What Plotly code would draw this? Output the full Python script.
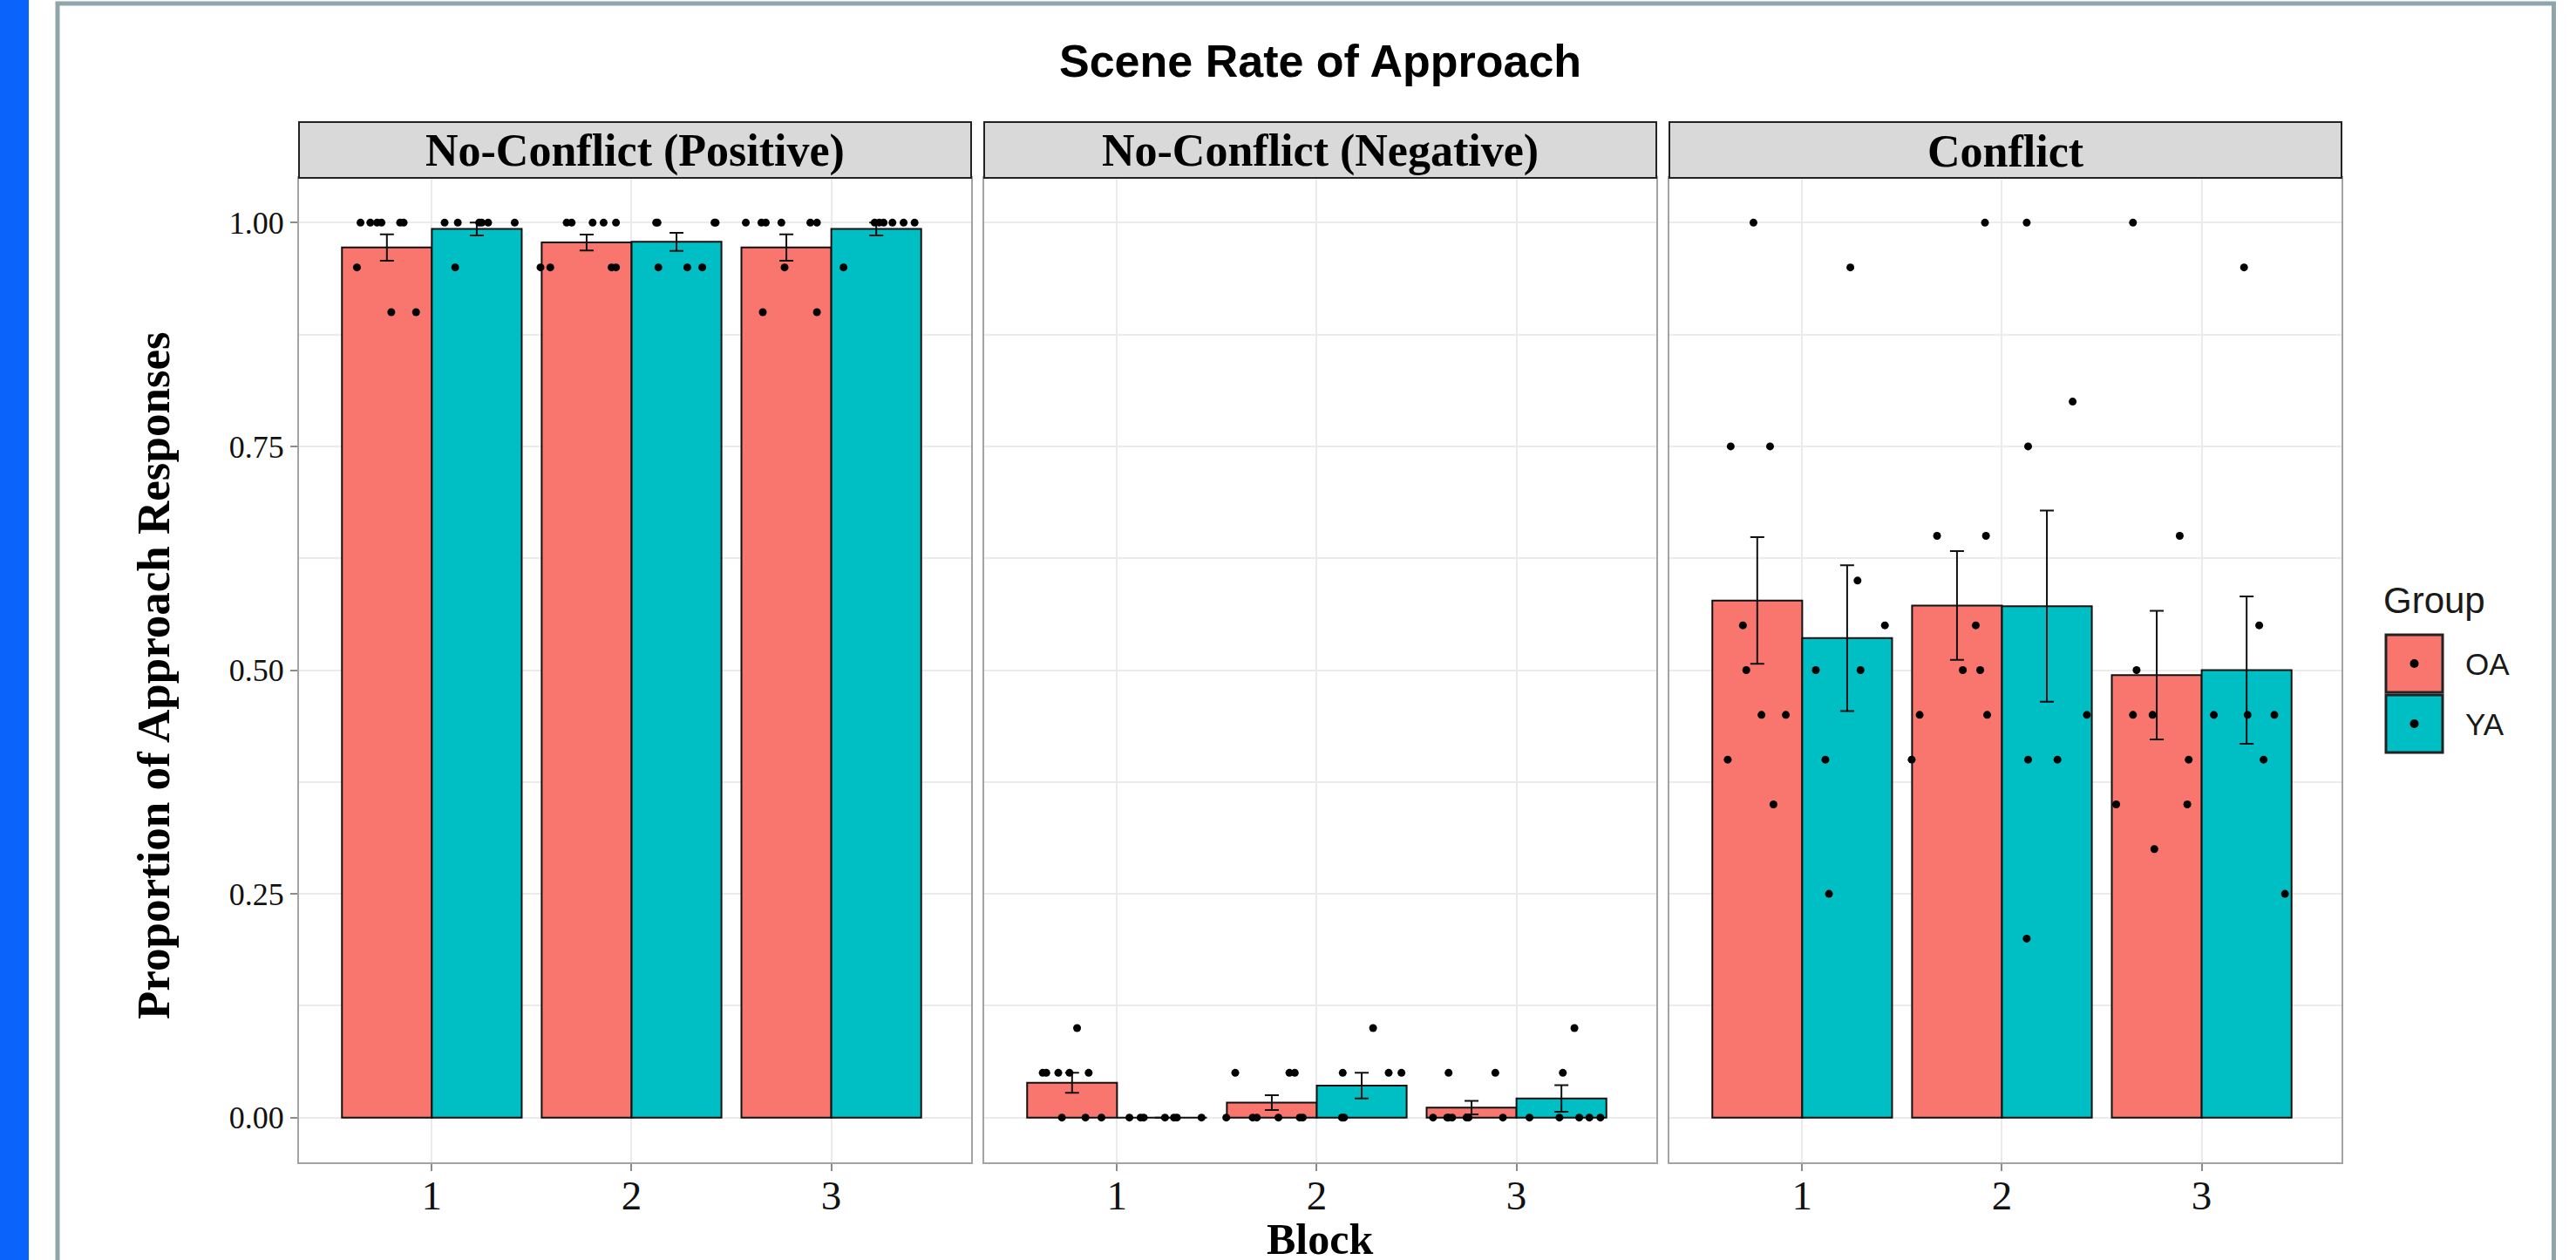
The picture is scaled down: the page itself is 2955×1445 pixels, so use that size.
import plotly.graph_objects as go

W, H = 2955, 1445

# ---------------- data ----------------
panels = ["No-Conflict (Positive)", "No-Conflict (Negative)", "Conflict"]
blocks = [1, 2, 3]
block_labels = ["1", "2", "3"]
groups = ["OA", "YA"]
y_ticks = [0, 0.25, 0.5, 0.75, 1.0]
y_tick_labels = ["0.00", "0.25", "0.50", "0.75", "1.00"]

# group means per panel (blocks 1..3)
mean_oa = [[0.9722, 0.9778, 0.9722], [0.0389, 0.0167, 0.0111], [0.5778, 0.5722, 0.4944]]
mean_ya = [[0.9929, 0.9786, 0.9929], [0.0, 0.0357, 0.0214], [0.5357, 0.5714, 0.5000]]
# standard errors
se_oa = [[0.0147, 0.0088, 0.0147], [0.0111, 0.0083, 0.0075], [0.0708, 0.0607, 0.0718]]
se_ya = [[0.0071, 0.0101, 0.0071], [0.0, 0.0143, 0.0149], [0.0815, 0.1068, 0.0823]]

# individual participant values, per panel, per block
pts_oa_val = [
    [[1, 1, 1, 1, 1, 1, 0.95, 0.90, 0.90],
     [1, 1, 1, 1, 1, 0.95, 0.95, 0.95, 0.95],
     [1, 1, 1, 1, 1, 1, 0.95, 0.90, 0.90]],
    [[0.10, 0.05, 0.05, 0.05, 0.05, 0.05, 0, 0, 0],
     [0.05, 0.05, 0.05, 0, 0, 0, 0, 0, 0],
     [0.05, 0.05, 0, 0, 0, 0, 0, 0, 0]],
    [[1.00, 0.75, 0.75, 0.55, 0.50, 0.45, 0.45, 0.40, 0.35],
     [1.00, 0.65, 0.65, 0.55, 0.50, 0.50, 0.45, 0.45, 0.40],
     [1.00, 0.65, 0.50, 0.45, 0.45, 0.40, 0.35, 0.35, 0.30]],
]
# jittered horizontal position of each point (block units)
pts_oa_jit = [
    [[0.643, 0.692, 0.726, 0.748, 0.841, 0.859, 0.625, 0.797, 0.921],
     [1.675, 1.700, 1.805, 1.860, 1.922, 1.544, 1.593, 1.900, 1.922],
     [2.572, 2.650, 2.672, 2.750, 2.895, 2.928, 2.766, 2.657, 2.928]],
    [[0.800, 0.628, 0.646, 0.706, 0.762, 0.858, 0.724, 0.842, 0.922],
     [1.592, 1.863, 1.890, 1.547, 1.679, 1.700, 1.808, 1.915, 1.930],
     [2.660, 2.894, 2.582, 2.653, 2.660, 2.678, 2.750, 2.760, 2.932]],
    [[0.756, 0.642, 0.839, 0.703, 0.720, 0.796, 0.918, 0.627, 0.856],
     [1.915, 1.675, 1.920, 1.869, 1.804, 1.891, 1.588, 1.926, 1.548],
     [2.656, 2.890, 2.674, 2.656, 2.754, 2.935, 2.572, 2.928, 2.763]],
]
pts_ya_val = [
    [[1, 1, 1, 1, 1, 1, 0.95],
     [1, 1, 1, 1, 0.95, 0.95, 0.95],
     [1, 1, 1, 1, 1, 1, 0.95]],
    [[0, 0, 0, 0, 0, 0, 0],
     [0.10, 0.05, 0.05, 0.05, 0, 0, 0],
     [0.10, 0.05, 0, 0, 0, 0, 0]],
    [[0.95, 0.60, 0.55, 0.50, 0.50, 0.40, 0.25],
     [1.00, 0.80, 0.75, 0.45, 0.40, 0.40, 0.20],
     [0.95, 0.55, 0.45, 0.45, 0.45, 0.40, 0.25]],
]
pts_ya_jit = [
    [[1.064, 1.130, 1.237, 1.250, 1.282, 1.415, 1.117],
     [2.123, 2.130, 2.415, 2.421, 2.134, 2.279, 2.354],
     [3.217, 3.240, 3.262, 3.306, 3.362, 3.417, 3.061]],
    [[1.062, 1.118, 1.134, 1.240, 1.285, 1.300, 1.423],
     [2.282, 2.130, 2.360, 2.424, 2.126, 2.130, 2.137],
     [3.290, 3.232, 3.065, 3.215, 3.314, 3.365, 3.420]],
    [[1.241, 1.277, 1.414, 1.068, 1.292, 1.116, 1.134],
     [2.124, 2.354, 2.131, 2.425, 2.131, 2.278, 2.124],
     [3.212, 3.288, 3.061, 3.230, 3.364, 3.310, 3.417]],
]

# ---------------- styling ----------------
COL = {"OA": "#F8766D", "YA": "#00BFC4"}
SERIF = "Liberation Serif"
SANS = "Liberation Sans"
GRID = "#EBEBEB"
BORDER = "#A3A3A3"


def px(x):
    return x / W


def py(y):
    return 1 - y / H


panel_px = [(343, 1114), (1129, 1900), (1915, 2686)]
plot_top, plot_bot = 204, 1333
strip_top = 140

fig = go.Figure()

for i, name in enumerate(panels):
    ax = "" if i == 0 else str(i + 1)
    xa, ya = "x" + ax, "y" + ax
    for g, means, ses in (("OA", mean_oa, se_oa), ("YA", mean_ya, se_ya)):
        fig.add_trace(go.Bar(
            x=blocks, y=means[i], name=g, xaxis=xa, yaxis=ya,
            marker=dict(color=COL[g], line=dict(color="#111111", width=2)),
            error_y=dict(type="data", array=ses[i], visible=True,
                         color="#111111", thickness=2, width=8),
            showlegend=False, offsetgroup=g,
        ))
    xs, ys = [], []
    for vals, jit in ((pts_oa_val, pts_oa_jit), (pts_ya_val, pts_ya_jit)):
        for b in range(3):
            xs += jit[i][b]
            ys += vals[i][b]
    fig.add_trace(go.Scatter(
        x=xs, y=ys, mode="markers", xaxis=xa, yaxis=ya,
        marker=dict(color="black", size=9, line=dict(width=0)),
        showlegend=False, hoverinfo="skip",
    ))

layout = dict(
    width=W, height=H,
    margin=dict(l=0, r=0, t=0, b=0),
    paper_bgcolor="white", plot_bgcolor="white",
    barmode="group", bargap=0.1, bargroupgap=0,
    showlegend=False,
)

for i in range(3):
    ax = "" if i == 0 else str(i + 1)
    x0, x1 = panel_px[i]
    layout["xaxis" + ax] = dict(
        domain=[px(x0), px(x1)], anchor="y" + ax,
        range=[0.335, 3.70], tickvals=blocks, ticktext=block_labels,
        showgrid=True, gridcolor=GRID, gridwidth=2, zeroline=False,
        showline=True, linecolor=BORDER, linewidth=2, mirror=True,
        ticks="outside", ticklen=8, tickwidth=2, tickcolor="#8c8c8c",
        ticklabelstandoff=-12,
        tickfont=dict(family=SERIF, size=47, color="#111111"),
    )
    layout["yaxis" + ax] = dict(
        domain=[py(plot_bot), py(plot_top)], anchor="x" + ax,
        range=[-0.05, 1.05], tickvals=y_ticks,
        ticktext=y_tick_labels if i == 0 else ["" for _ in y_ticks],
        showgrid=True, gridcolor=GRID, gridwidth=2, zeroline=False,
        minor=dict(tickvals=[0.125, 0.375, 0.625, 0.875], showgrid=True,
                   gridcolor=GRID, gridwidth=1.5, ticks=""),
        showline=True, linecolor=BORDER, linewidth=2, mirror=True,
        ticks="outside" if i == 0 else "", ticklen=8, tickwidth=2,
        tickcolor="#8c8c8c",
        tickfont=dict(family=SERIF, size=36, color="#111111"),
    )

fig.update_layout(**layout)

shapes = []
annotations = []

# left blue strip and outer frame
shapes.append(dict(type="rect", xref="paper", yref="paper", x0=px(0), x1=px(33),
                   y0=py(H + 20), y1=py(-20), fillcolor="#0A63FB", line=dict(width=0),
                   layer="below"))
shapes.append(dict(type="rect", xref="paper", yref="paper", x0=px(66), x1=px(2929.5),
                   y0=py(1500), y1=py(4), fillcolor="rgba(0,0,0,0)",
                   line=dict(color="#8EA6AB", width=5), layer="above"))

# facet strips
for i, name in enumerate(panels):
    x0, x1 = panel_px[i]
    shapes.append(dict(type="rect", xref="paper", yref="paper", x0=px(x0), x1=px(x1),
                       y0=py(plot_top), y1=py(strip_top), fillcolor="#D9D9D9",
                       line=dict(color="#222222", width=2)))
    annotations.append(dict(text="<b>" + name + "</b>", xref="paper", yref="paper",
                            x=px((x0 + x1) / 2), y=py(173), xanchor="center",
                            yanchor="middle", showarrow=False,
                            font=dict(family=SERIF, size=52, color="black")))

# titles
annotations.append(dict(text="<b>Scene Rate of Approach</b>", xref="paper", yref="paper",
                        x=px(1514), y=py(70), xanchor="center", yanchor="middle",
                        showarrow=False, font=dict(family=SANS, size=52, color="black")))
annotations.append(dict(text="<b>Proportion of Approach Responses</b>", xref="paper",
                        yref="paper", x=px(176), y=py(775), xanchor="center",
                        yanchor="middle", textangle=-90, showarrow=False,
                        font=dict(family=SERIF, size=53, color="black")))
annotations.append(dict(text="<b>Block</b>", xref="paper", yref="paper",
                        x=px(1514), y=py(1421), xanchor="center", yanchor="middle",
                        showarrow=False, font=dict(family=SERIF, size=50, color="black")))

# legend (drawn by hand to match the key boxes with dots)
annotations.append(dict(text="Group", xref="paper", yref="paper", x=px(2732), y=py(688),
                        xanchor="left", yanchor="middle", showarrow=False,
                        font=dict(family=SANS, size=42, color="#1a1a1a")))
key_rows = [(728, 794), (797, 863)]
for (g, (k0, k1)) in zip(groups, key_rows):
    shapes.append(dict(type="rect", xref="paper", yref="paper", x0=px(2737), x1=px(2802),
                       y0=py(k1), y1=py(k0), fillcolor=COL[g],
                       line=dict(color="#222222", width=3)))
    cx, cy = 2769.5, (k0 + k1) / 2
    shapes.append(dict(type="circle", xref="paper", yref="paper",
                       x0=px(cx - 5), x1=px(cx + 5), y0=py(cy + 5), y1=py(cy - 5),
                       fillcolor="black", line=dict(width=0)))
    annotations.append(dict(text=g, xref="paper", yref="paper", x=px(2826), y=py(cy),
                            xanchor="left", yanchor="middle", showarrow=False,
                            font=dict(family=SANS, size=35, color="#1a1a1a")))

fig.update_layout(shapes=shapes, annotations=annotations)

fig.write_html("out.html", config={"displayModeBar": False},
               post_script="document.body.style.margin='0';document.body.style.overflow='hidden';")
